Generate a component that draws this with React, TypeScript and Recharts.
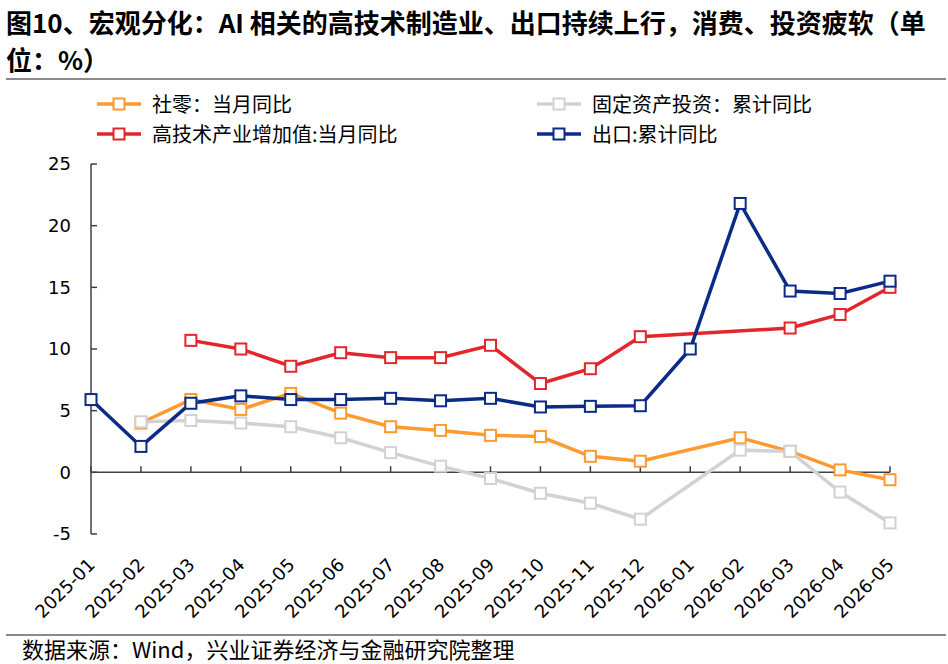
import React from "react";
import { LineChart, Line, XAxis, YAxis, ReferenceLine } from "recharts";

const months = [
  "2025-01", "2025-02", "2025-03", "2025-04", "2025-05", "2025-06",
  "2025-07", "2025-08", "2025-09", "2025-10", "2025-11", "2025-12",
  "2026-01", "2026-02", "2026-03", "2026-04", "2026-05",
];
// 社零：当月同比
const retailSales = [null, 4.0, 5.9, 5.1, 6.4, 4.8, 3.7, 3.4, 3.0, 2.9, 1.3, 0.9, null, 2.8, 1.7, 0.2, -0.6];
// 固定资产投资：累计同比
const fixedInvestment = [null, 4.1, 4.2, 4.0, 3.7, 2.8, 1.6, 0.5, -0.5, -1.7, -2.5, -3.8, null, 1.8, 1.7, -1.6, -4.1];
// 高技术产业增加值:当月同比
const hiTechOutput = [null, null, 10.7, 10.0, 8.6, 9.7, 9.3, 9.3, 10.3, 7.2, 8.4, 11.0, null, null, 11.7, 12.8, 15.0];
// 出口:累计同比
const exportsYoY = [5.9, 2.1, 5.6, 6.2, 5.9, 5.9, 6.0, 5.8, 6.0, 5.3, 5.35, 5.4, 10.0, 21.8, 14.7, 14.5, 15.5];

const yTicks = [-5, 0, 5, 10, 15, 20, 25];

const data = months.map((m, i) => ({
  month: m,
  retail: retailSales[i],
  fai: fixedInvestment[i],
  hitech: hiTechOutput[i],
  exports: exportsYoY[i],
}));

const series = [
  { key: "retail", name: "社零：当月同比", color: "#FF9A2E" },
  { key: "fai", name: "固定资产投资：累计同比", color: "#D2D2D2" },
  { key: "hitech", name: "高技术产业增加值:当月同比", color: "#E3262B" },
  { key: "exports", name: "出口:累计同比", color: "#0B2B86" },
];

const CJK = '"Noto Sans CJK SC", "Noto Sans", sans-serif';
const LATIN = '"DejaVu Sans", sans-serif';

const squareDot = (color: string) => (props: any) => {
  const { cx, cy, index, value } = props;
  if (value == null || cx == null || cy == null) return <g key={index} />;
  return (
    <rect
      key={index}
      x={cx - 5.5}
      y={cy - 5.5}
      width={11}
      height={11}
      fill="#fff"
      stroke={color}
      strokeWidth={2}
    />
  );
};

const MonthTick = ({ x, y, payload }: any) => {
  const ax = x + 5;
  const ay = y + 24;
  return (
    <text
      x={ax}
      y={ay}
      transform={`rotate(-45, ${ax}, ${ay})`}
      textAnchor="end"
      fontSize={18}
      fontFamily={LATIN}
      fill="#000"
    >
      {payload.value}
    </text>
  );
};

const ChartLegend = () => (
  <>
    {series.map((s, i) => (
      <div
        key={s.key}
        style={{
          position: "absolute",
          left: i % 2 ? 537 : 97,
          top: 90 + Math.floor(i / 2) * 30,
          display: "flex",
          alignItems: "center",
          fontFamily: CJK,
          fontSize: 20,
          lineHeight: "28px",
          color: "#000",
          whiteSpace: "nowrap",
        }}
      >
        <svg width={44} height={16} style={{ marginRight: 11 }}>
          <line x1={0} y1={8} x2={44} y2={8} stroke={s.color} strokeWidth={3.5} />
          <rect x={16.5} y={2.5} width={11} height={11} fill="#fff" stroke={s.color} strokeWidth={2} />
        </svg>
        {s.name}
      </div>
    ))}
  </>
);

export default function App() {
  return (
    <div style={{ position: "absolute", left: 0, top: 0, width: 948, height: 664, background: "#fff", overflow: "hidden" }}>
      <div
        style={{
          position: "absolute",
          left: 6,
          top: 3,
          fontFamily: CJK,
          fontWeight: 700,
          fontSize: 26,
          lineHeight: "37px",
          color: "#000",
          whiteSpace: "nowrap",
        }}
      >
        图10、宏观分化：AI 相关的高技术制造业、出口持续上行，消费、投资疲软（单
        <br />
        位：%）
      </div>
      <div style={{ position: "absolute", left: 6, top: 78, width: 940, height: 2, background: "#8a8a8a" }} />

      <ChartLegend />

      <div style={{ position: "absolute", left: 0, top: 0 }}>
        <LineChart width={948} height={664} data={data} margin={{ top: 164, right: 58, bottom: 30, left: 0 }}>
          <XAxis
            dataKey="month"
            axisLine={false}
            tickLine={false}
            interval={0}
            height={100}
            tick={<MonthTick />}
          />
          <YAxis
            domain={[-5, 25]}
            ticks={yTicks}
            width={91}
            axisLine={{ stroke: "#404040", strokeWidth: 1.5 }}
            tickLine={{ stroke: "#404040", strokeWidth: 1.5 }}
            tickSize={-6}
            tickMargin={26}
            tick={{ fontSize: 18, fontFamily: LATIN, fill: "#000" }}
          />
          <ReferenceLine y={0} stroke="#404040" strokeWidth={1.5} />
          {months.map((m) => (
            <ReferenceLine
              key={m}
              segment={[{ x: m, y: 0 }, { x: m, y: 0.5 }]}
              stroke="#404040"
              strokeWidth={1.5}
            />
          ))}
          {series.map((s) => (
            <Line
              key={s.key}
              type="linear"
              dataKey={s.key}
              name={s.name}
              stroke={s.color}
              strokeWidth={3.5}
              connectNulls
              dot={squareDot(s.color)}
              activeDot={false}
              isAnimationActive={false}
            />
          ))}
        </LineChart>
      </div>

      <div style={{ position: "absolute", left: 6, top: 634, width: 940, height: 2, background: "#8a8a8a" }} />
      <div
        style={{
          position: "absolute",
          left: 22,
          top: 636,
          fontFamily: CJK,
          fontSize: 22,
          lineHeight: "25px",
          color: "#000",
          whiteSpace: "nowrap",
        }}
      >
        数据来源：Wind，兴业证券经济与金融研究院整理
      </div>
    </div>
  );
}
